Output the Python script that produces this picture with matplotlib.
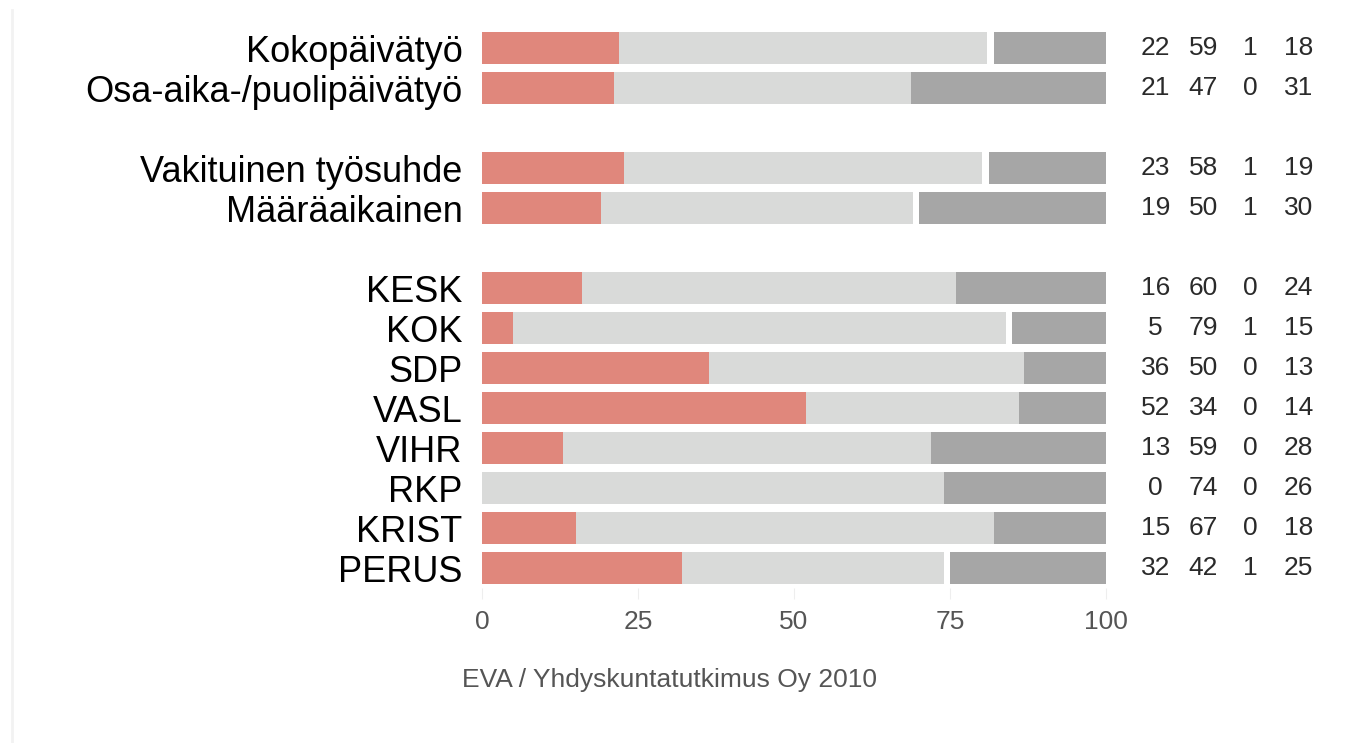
import numpy as np
import matplotlib.pyplot as plt
from matplotlib.lines import Line2D

plt.rcParams['font.family'] = ['Liberation Sans', 'DejaVu Sans']

# data
labels = ['Kokopäivätyö', 'Osa-aika-/puolipäivätyö',
          'Vakituinen työsuhde', 'Määräaikainen',
          'KESK', 'KOK', 'SDP', 'VASL', 'VIHR', 'RKP', 'KRIST', 'PERUS']
rows = [0, 1, 3, 4, 6, 7, 8, 9, 10, 11, 12, 13]
seg1 = [22, 21, 23, 19, 16, 5, 36, 52, 13, 0, 15, 32]
seg2 = [59, 47, 58, 50, 60, 79, 50, 34, 59, 74, 67, 42]
seg3 = [1, 0, 1, 1, 0, 1, 0, 0, 0, 0, 0, 1]
seg4 = [18, 31, 19, 30, 24, 15, 13, 14, 28, 26, 18, 25]
ticks = [0, 25, 50, 75, 100]

colors = ['#E0877C', '#D9DAD9', '#FFFFFF', '#A6A6A6']

fig = plt.figure(figsize=(13.57, 7.43), dpi=100)
ax = fig.add_axes([482/1357, 155/743, 624/1357, 560/743])

vals = np.array([seg1, seg2, seg3, seg4], dtype=float)
shares = vals / vals.sum(axis=0) * 100
left = np.zeros(len(rows))
for s, c in zip(shares, colors):
    ax.barh(rows, s, left=left, height=0.78, color=c, linewidth=0)
    left += s

ax.set_xlim(0, 100)
ax.set_ylim(13.5, -0.5)
ax.set_yticks(rows)
ax.set_yticklabels(labels, fontsize=26, color='black')
ax.tick_params(axis='y', length=0, pad=14)
ax.set_xticks(ticks)
ax.set_xticklabels([str(t) for t in ticks], fontsize=19, color='#555555')
ax.tick_params(axis='x', length=8, color='#eeeeee', pad=8)
for sp in ax.spines.values():
    sp.set_visible(False)

# value columns to the right of the bars
col_x = [107.9, 115.6, 123.2, 130.8]
for i, r in enumerate(rows):
    for j, x in enumerate(col_x):
        ax.text(x, r, str(int(vals[j][i])), ha='center', va='center',
                fontsize=19, color='#2a2a2a', clip_on=False)

fig.text(670/1357, 1 - 680/743, 'EVA / Yhdyskuntatutkimus Oy 2010',
         ha='center', va='center', fontsize=19, color='#555555')

fig.add_artist(Line2D([12/1357, 12/1357], [0, 1 - 10/743],
                      transform=fig.transFigure, color='#f2f2f2', lw=2))

fig.savefig('out.png', dpi=100)
